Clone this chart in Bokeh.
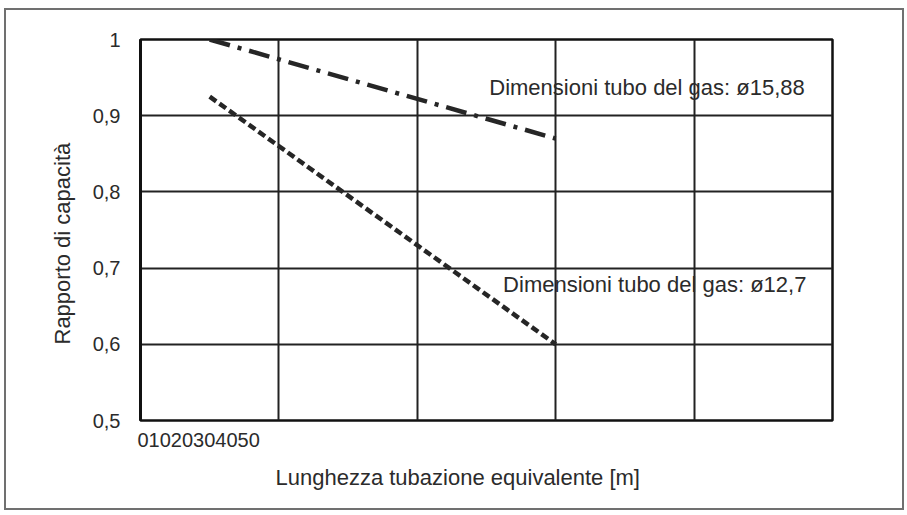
from bokeh.plotting import figure
from bokeh.models import Label, FixedTicker, Range1d, Title
from bokeh.embed import file_html
from bokeh.resources import INLINE

# ---- data ----
x_ticks = [0, 10, 20, 30, 40, 50]
x_tick_labels = ["0", "10", "20", "30", "40", "50"]
y_ticks = [0.5, 0.6, 0.7, 0.8, 0.9, 1.0]
y_tick_labels = ["0,5", "0,6", "0,7", "0,8", "0,9", "1"]

length_m = [5, 30]
ratio_1588 = [1.0, 0.87]
ratio_127 = [0.925, 0.60]

name_1588 = "Dimensioni tubo del gas: ø15,88"
name_127 = "Dimensioni tubo del gas: ø12,7"
x_title = "Lunghezza tubazione equivalente [m]"
y_title = "Rapporto di capacità"

FONT = "Liberation Sans"
TXT = "#2b2b2b"

p = figure(width=900, height=502, output_backend="svg", toolbar_location=None,
           x_range=Range1d(0, 50), y_range=Range1d(0.5, 1.0),
           min_border_left=134, min_border_right=74, min_border_top=29, min_border_bottom=92,
           styles={"border": "2px solid #707070", "margin-left": "4px", "margin-top": "8px"})
p.background_fill_color = "white"
p.border_fill_color = "white"
p.outline_line_color = "#111111"
p.outline_line_width = 2.5

p.xaxis.visible = False
p.xgrid.ticker = FixedTicker(ticks=x_ticks)
p.yaxis.ticker = FixedTicker(ticks=y_ticks)
p.yaxis.major_label_overrides = {t: l for t, l in zip(y_ticks, y_tick_labels)}
p.yaxis.major_tick_line_color = None
p.yaxis.minor_tick_line_color = None
p.yaxis.axis_line_color = "#111111"
p.yaxis.axis_line_width = 3
p.yaxis.major_label_standoff = 14
p.yaxis.major_label_text_font = FONT
p.yaxis.major_label_text_font_size = "20px"
p.yaxis.major_label_text_color = TXT

p.xgrid.grid_line_color = "#222222"
p.ygrid.grid_line_color = "#222222"
p.xgrid.grid_line_width = 2
p.ygrid.grid_line_width = 2

p.line(length_m, ratio_1588, line_color="#262626", line_width=4.5, line_dash="21 8 4 8")
p.line(length_m, ratio_127, line_color="#262626", line_width=4.5, line_dash="8 4")

p.add_layout(Label(x=25.2, y=0.937, text=name_1588, text_font=FONT, text_font_size="22px",
                   text_color=TXT, text_baseline="middle", text_align="left"))
p.add_layout(Label(x=26.2, y=0.679, text=name_127, text_font=FONT, text_font_size="22px",
                   text_color=TXT, text_baseline="middle", text_align="left"))

# squashed x tick labels as printed in the reference
p.add_layout(Title(text="".join(x_tick_labels), align="left", offset=-3, standoff=20,
                   text_font=FONT, text_font_size="20px", text_color=TXT,
                   text_font_style="normal"), "below")
p.add_layout(Title(text=x_title, align="left", offset=135, standoff=12,
                   text_font=FONT, text_font_size="22px", text_color=TXT,
                   text_font_style="normal"), "below")
p.add_layout(Title(text=y_title, align="left", offset=76, standoff=30,
                   text_font=FONT, text_font_size="22px", text_color=TXT,
                   text_font_style="normal"), "left")

open("out.html", "w").write(file_html(p, INLINE))
